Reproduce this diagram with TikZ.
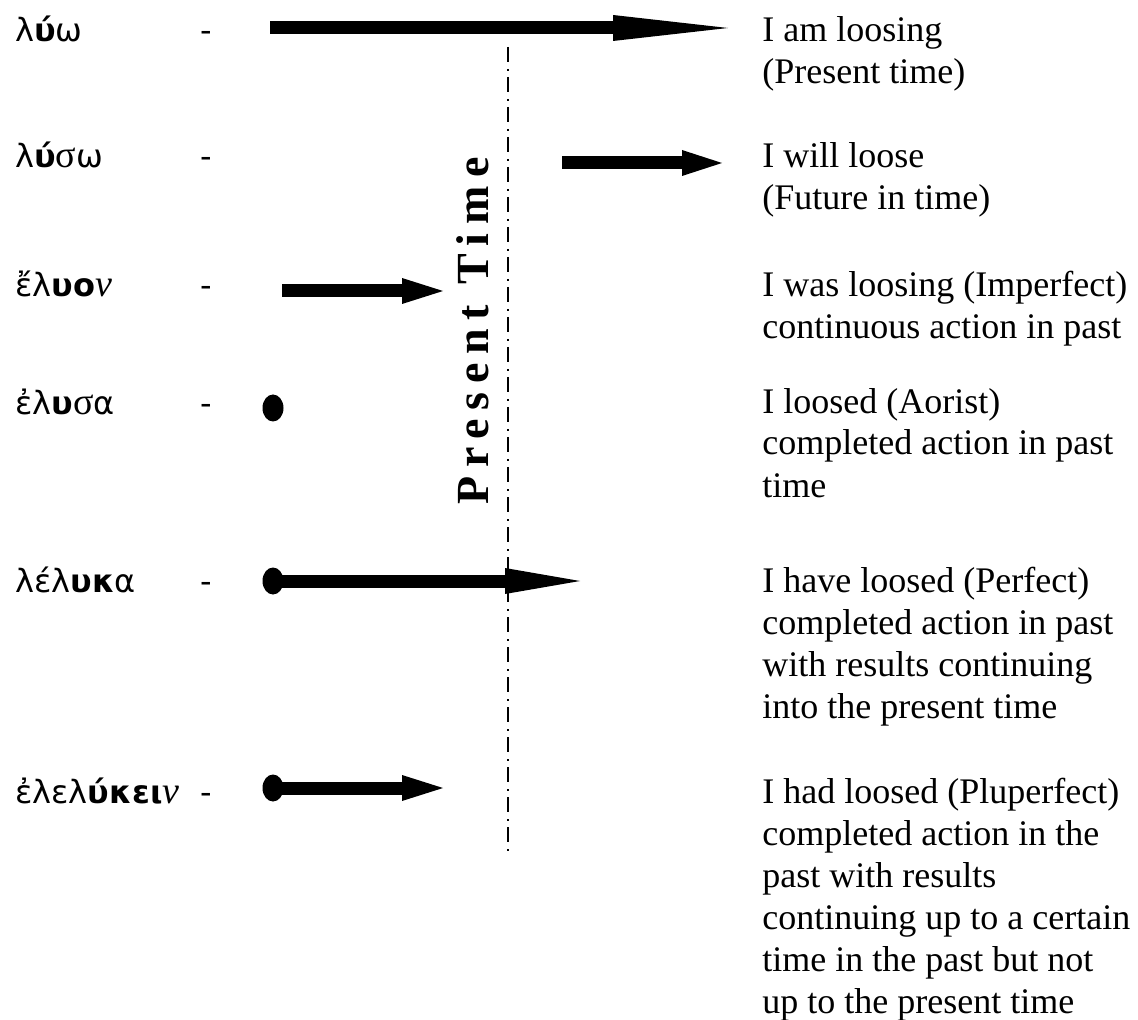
\documentclass[tikz,border=0pt]{standalone}
\usepackage{fontspec}
\setmainfont{Liberation Serif}
\newfontfamily\greekfont{DejaVu Sans}
\newfontfamily\greeksym{Liberation Serif}
\usetikzlibrary{arrows.meta,shapes.geometric}
\tikzset{word/.style = {font=\greekfont\fontsize{16}{19}\selectfont,anchor=base west,inner sep=0}}
\tikzset{meaning/.style = {font=\fontsize{18}{21}\selectfont,align=left,anchor=base west,inner sep=0}}
\tikzset{dot/.style = {shape=ellipse,fill,inner sep=0,minimum width=10.5pt,minimum height=13.5pt}}
\tikzset{tense/.style = {line width=6.5pt,-{Triangle[length=#1,width=13pt,line width=0pt]}}}
\tikzset{now/.style = {line width=0.85pt,dash pattern=on 7.5pt off 3.5pt on 1pt off 3pt}}
\newcommand{\sigmaglyph}{{\greeksym\fontsize{19}{19}\selectfont σ}}
\newcommand{\nuglyph}{{\greeksym\itshape\fontsize{19}{19}\selectfont ν}}

\begin{document}
\begin{tikzpicture}[x=0.5pt,y=-0.5pt]

\useasboundingbox (0,0) rectangle (1138,1020);

\node[word] (luo) at (15,42) {λ\textbf{ύ}ω};
\node[word] (luso) at (15,168) {λ\textbf{ύ}\sigmaglyph ω};
\node[word] (eluon) at (15,297) {ἔλ\textbf{υο}\nuglyph};
\node[word] (elusa) at (15,415) {ἐλ\textbf{υ}\sigmaglyph α};
\node[word] (leluka) at (15,592) {λέλ\textbf{υκ}α};
\node[word] (eleluke) at (15,803) {ἐλελ\textbf{ύκει}\nuglyph};

\node[word,anchor=base] (luodash) at (206,42) {-};
\node[word,anchor=base] (lusodash) at (206,168) {-};
\node[word,anchor=base] (eluondash) at (206,297) {-};
\node[word,anchor=base] (elusadash) at (206,415) {-};
\node[word,anchor=base] (lelukadash) at (206,592) {-};
\node[word,anchor=base] (elelukedash) at (206,803) {-};

% base of a block is its last line
\node[meaning] (luotext) at (762,84) {I am loosing\\(Present time)};
\node[meaning] (lusotext) at (762,210) {I will loose\\(Future in time)};
\node[meaning] (eluontext) at (762,339) {I was loosing (Imperfect)\\continuous action in past};
\node[meaning] (elusatext) at (762,497) {I loosed (Aorist)\\completed action in past\\time};
\node[meaning] (lelukatext) at (762,718) {I have loosed (Perfect)\\completed action in past\\with results continuing\\into the present time};
\node[meaning] (eleluketext) at (762,1013) {I had loosed (Pluperfect)\\completed action in the\\past with results\\continuing up to a certain\\time in the past but not\\up to the present time};

% present time line
\coordinate (nowtop) at (508,47);
\coordinate (nowbottom) at (508,851);
\draw[now] (nowtop) -- (nowbottom);
\node[rotate=90,anchor=base west,inner sep=0,font=\bfseries\addfontfeature{LetterSpace=19}\fontsize{23}{26}\selectfont] (nowlabel) at (488,505) {Present Time};

% arrows and dots
\coordinate (luostart) at (270,28);
\coordinate (luoend) at (728,28);
\coordinate (lusostart) at (562,163);
\coordinate (lusoend) at (722,163);
\coordinate (eluonstart) at (282,291);
\coordinate (eluonend) at (443,291);
\coordinate (lelukaend) at (580,581);
\coordinate (elelukeend) at (443,788);

\node[dot] (elusadot) at (273,408) {};
\node[dot] (lelukadot) at (273,581) {};
\node[dot] (elelukedot) at (273,788) {};

\draw[tense=57.5pt] (luostart) -- (luoend);
\draw[tense=20pt] (lusostart) -- (lusoend);
\draw[tense=20.5pt] (eluonstart) -- (eluonend);
\draw[tense=37.5pt] (lelukadot.center) -- (lelukaend);
\draw[tense=20.5pt] (elelukedot.center) -- (elelukeend);

\end{tikzpicture}
\end{document}
